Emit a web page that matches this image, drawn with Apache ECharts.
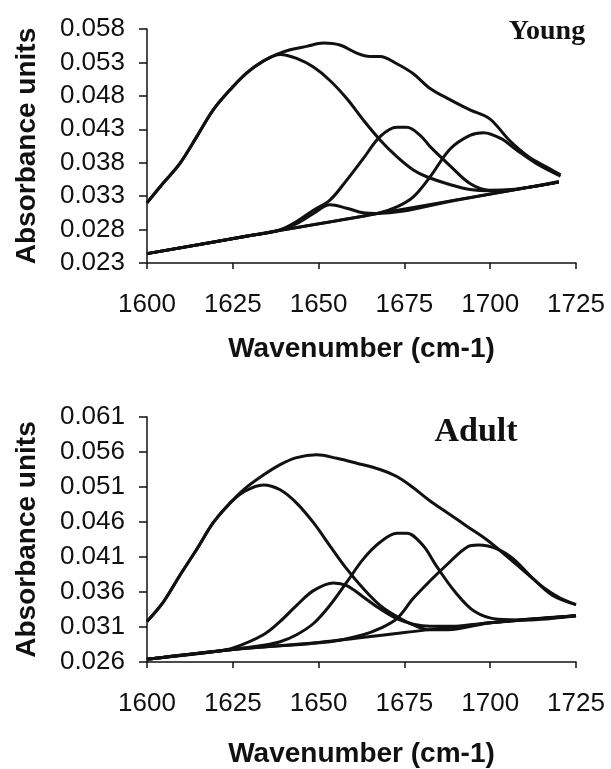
<!DOCTYPE html>
<html>
<head>
<meta charset="utf-8">
<script src="https://cdn.jsdelivr.net/npm/echarts@6/dist/echarts.min.js"></script>
<style>
  html, body { margin: 0; padding: 0; background: #fff; }
  #chart { width: 611px; height: 769px; }
</style>
</head>
<body>
<div id="chart"></div>
<script>
// x ticks (cm-1)
const xTicks = [1600, 1625, 1650, 1675, 1700, 1725]

// Young panel, [wavenumber, absorbance]
const youngBase = 0.023
const youngBaseline = [[1600, 0.0244], [1660, 0.02975], [1720, 0.0351]]
const youngEnvelope = [
  [1600, 0.0320], [1604.8, 0.0350], [1609.6, 0.0379], [1614.5, 0.0419], [1619.3, 0.0459],
  [1624.2, 0.0489], [1629, 0.0514], [1633.9, 0.0532], [1637.8, 0.0542], [1641.7, 0.0549],
  [1646.5, 0.0554], [1651.4, 0.0559], [1656.2, 0.0556], [1661.1, 0.0544], [1665, 0.0539],
  [1667.9, 0.0539], [1672.8, 0.0528], [1677.6, 0.0513], [1682.5, 0.0491], [1688.4, 0.0474],
  [1694.1, 0.0459], [1699.8, 0.0446], [1705.5, 0.0414], [1711.2, 0.0389], [1717, 0.0372],
  [1720.5, 0.0362]
]
const youngBand1 = [
  [1600, 0.0320], [1604.8, 0.0350], [1609.6, 0.0379], [1614.5, 0.0419], [1619.3, 0.0459],
  [1624.2, 0.0489], [1629, 0.0514], [1633.9, 0.0532], [1638.8, 0.0542], [1643.6, 0.0536],
  [1648.5, 0.0523], [1653.3, 0.0503], [1658.2, 0.0476], [1663, 0.0444], [1667.9, 0.0414],
  [1672.8, 0.0389], [1677.6, 0.0369], [1681.5, 0.0359], [1688.4, 0.0347], [1694.1, 0.0340],
  [1699.8, 0.0338], [1705.5, 0.0339], [1712, 0.0344], [1720, 0.0352]
]
const youngBand2 = [
  [1600, 0.0244], [1630, 0.0271], [1637.8, 0.0278], [1643.6, 0.0289], [1648.5, 0.0304],
  [1653.3, 0.0317], [1658.2, 0.0312], [1663, 0.0305], [1667, 0.0304], [1690, 0.0324],
  [1720, 0.0351]
]
const youngBand3 = [
  [1600, 0.0244], [1630, 0.0271], [1638.5, 0.0279], [1643.6, 0.0292], [1648.5, 0.0309],
  [1653.3, 0.0324], [1658.2, 0.0354], [1663, 0.0386], [1667.9, 0.0419], [1672.8, 0.0433],
  [1675.7, 0.0433], [1679.6, 0.0421], [1682.5, 0.0404], [1688.4, 0.0375], [1694.1, 0.0349],
  [1699.8, 0.0339], [1706, 0.0340], [1720, 0.0351]
]
const youngBand4 = [
  [1600, 0.0244], [1640, 0.0280], [1667, 0.0304], [1672.8, 0.0314], [1677.6, 0.0329],
  [1682.5, 0.0359], [1688.4, 0.0401], [1694.1, 0.0421], [1698, 0.0425], [1703.2, 0.0416],
  [1707.7, 0.0399], [1713.4, 0.0379], [1720.5, 0.0360]
]

// Adult panel
const adultBase = 0.026
const adultBaseline = [
  [1600, 0.0264], [1625, 0.0278], [1650, 0.0288], [1675, 0.0302], [1700, 0.0316], [1725, 0.0326]
]
const adultEnvelope = [
  [1600, 0.0318], [1604.8, 0.0346], [1609.6, 0.0384], [1614.5, 0.0421], [1619.3, 0.0459],
  [1624.2, 0.0487], [1628.1, 0.0506], [1633.9, 0.0527], [1638.8, 0.0542], [1643.6, 0.0552],
  [1649.4, 0.0556], [1655.3, 0.0551], [1661.1, 0.0544], [1667.9, 0.0535], [1672.8, 0.0525],
  [1677.6, 0.0509], [1682.5, 0.0490], [1687.6, 0.0473], [1693.2, 0.0454], [1698.9, 0.0435],
  [1704.6, 0.0412], [1710.3, 0.0388], [1715.9, 0.0365], [1720.5, 0.0351], [1725, 0.0342]
]
const adultBand1 = [
  [1600, 0.0318], [1604.8, 0.0346], [1609.6, 0.0384], [1614.5, 0.0421], [1619.3, 0.0459],
  [1624.2, 0.0487], [1628.5, 0.0504], [1633.9, 0.0513], [1638.8, 0.0506], [1643.6, 0.0487],
  [1648.5, 0.0459], [1653.3, 0.0426], [1658.2, 0.0393], [1663, 0.0365], [1667.9, 0.0341],
  [1672.8, 0.0325], [1677.6, 0.0313], [1682.5, 0.0306], [1687.6, 0.0306], [1700, 0.0316],
  [1725, 0.0326]
]
const adultBand2 = [
  [1600, 0.0264], [1620, 0.0275], [1625.1, 0.0280], [1633.9, 0.0299], [1638.8, 0.0318],
  [1643.6, 0.0341], [1648.5, 0.0362], [1654.3, 0.0373], [1658.2, 0.0369], [1663, 0.0353],
  [1667.9, 0.0336], [1672.8, 0.0322], [1677.6, 0.0314], [1682.5, 0.0311], [1690, 0.0311],
  [1700, 0.0316], [1725, 0.0326]
]
const adultBand3 = [
  [1600, 0.0264], [1625, 0.0278], [1633.9, 0.0284], [1638.8, 0.0289], [1643.6, 0.0299],
  [1648.5, 0.0315], [1653.3, 0.0341], [1658.2, 0.0374], [1663, 0.0407], [1667.9, 0.0431],
  [1672.8, 0.0444], [1675.7, 0.0444], [1680.5, 0.0426], [1684.2, 0.0398], [1689.8, 0.0360],
  [1695.5, 0.0332], [1702.3, 0.0321], [1710.3, 0.0320], [1725, 0.0326]
]
const adultBand4 = [
  [1600, 0.0264], [1625, 0.0278], [1653.3, 0.0289], [1663, 0.0299], [1667.9, 0.0308],
  [1672.8, 0.0322], [1677.6, 0.0351], [1682.5, 0.0376], [1687.6, 0.0400], [1693.2, 0.0424],
  [1696.6, 0.0427], [1702.3, 0.0421], [1706.8, 0.0407], [1712.5, 0.0379], [1718.2, 0.0355],
  [1725, 0.0342]
]

const ink = '#111'
const tickFont = '"Liberation Sans", Arial, sans-serif'

// the y axes start at a non-multiple of 0.005, so values are drawn relative to the panel floor
function shift(arr, base) {
  return arr.map(p => [p[0], p[1] - base])
}

function xAxisFor(gridIndex, gap) {
  return {
    type: 'value', gridIndex: gridIndex,
    min: xTicks[0], max: xTicks[xTicks.length - 1], interval: 25,
    name: 'Wavenumber (cm-1)', nameLocation: 'middle', nameGap: gap,
    nameTextStyle: { fontFamily: tickFont, fontWeight: 'bold', fontSize: 28, color: ink },
    axisLine: { lineStyle: { color: ink, width: 1.5 } },
    axisTick: { show: true, length: 6, lineStyle: { color: ink, width: 1.5 } },
    axisLabel: { margin: 29, fontFamily: tickFont, fontSize: 26, color: ink, formatter: v => String(v) },
    splitLine: { show: false }
  }
}

function yAxisFor(gridIndex, base) {
  return {
    type: 'value', gridIndex: gridIndex,
    min: 0, max: 0.035, interval: 0.005,
    name: 'Absorbance units', nameLocation: 'middle', nameGap: 106,
    nameTextStyle: { fontFamily: tickFont, fontWeight: 'bold', fontSize: 28, color: ink },
    axisLine: { show: true, lineStyle: { color: ink, width: 1.5 } },
    axisTick: { show: true, length: 8, lineStyle: { color: ink, width: 1.5 } },
    axisLabel: {
      margin: 22, fontFamily: tickFont, fontSize: 26, color: ink,
      formatter: v => (v + base).toFixed(3)
    },
    splitLine: { show: false }
  }
}

function curve(name, data, base, idx) {
  return {
    name: name, type: 'line', xAxisIndex: idx, yAxisIndex: idx,
    data: shift(data, base), smooth: 0.35, showSymbol: false, silent: true,
    lineStyle: { color: ink, width: 3 }
  }
}

const chart = echarts.init(document.getElementById('chart'))
chart.setOption({
  animation: false,
  backgroundColor: '#fff',
  grid: [
    { left: 147, top: 29, width: 429, height: 234 },
    { left: 147, top: 417, width: 429, height: 247 }
  ],
  xAxis: [xAxisFor(0, 72), xAxisFor(1, 78)],
  yAxis: [yAxisFor(0, youngBase), yAxisFor(1, adultBase)],
  graphic: [
    {
      type: 'text', x: 547, y: 32,
      style: {
        text: 'Young', font: 'bold 28px "Liberation Serif", "Times New Roman", serif',
        fill: ink, textAlign: 'center', textVerticalAlign: 'middle', align: 'center', verticalAlign: 'middle'
      }
    },
    {
      type: 'text', x: 476, y: 432,
      style: {
        text: 'Adult', font: 'bold 34px "Liberation Serif", "Times New Roman", serif',
        fill: ink, textAlign: 'center', textVerticalAlign: 'middle', align: 'center', verticalAlign: 'middle'
      }
    }
  ],
  series: [
    curve('baseline', youngBaseline, youngBase, 0),
    curve('envelope', youngEnvelope, youngBase, 0),
    curve('band 1', youngBand1, youngBase, 0),
    curve('band 2', youngBand2, youngBase, 0),
    curve('band 3', youngBand3, youngBase, 0),
    curve('band 4', youngBand4, youngBase, 0),
    curve('baseline', adultBaseline, adultBase, 1),
    curve('envelope', adultEnvelope, adultBase, 1),
    curve('band 1', adultBand1, adultBase, 1),
    curve('band 2', adultBand2, adultBase, 1),
    curve('band 3', adultBand3, adultBase, 1),
    curve('band 4', adultBand4, adultBase, 1)
  ]
})
</script>
</body>
</html>
